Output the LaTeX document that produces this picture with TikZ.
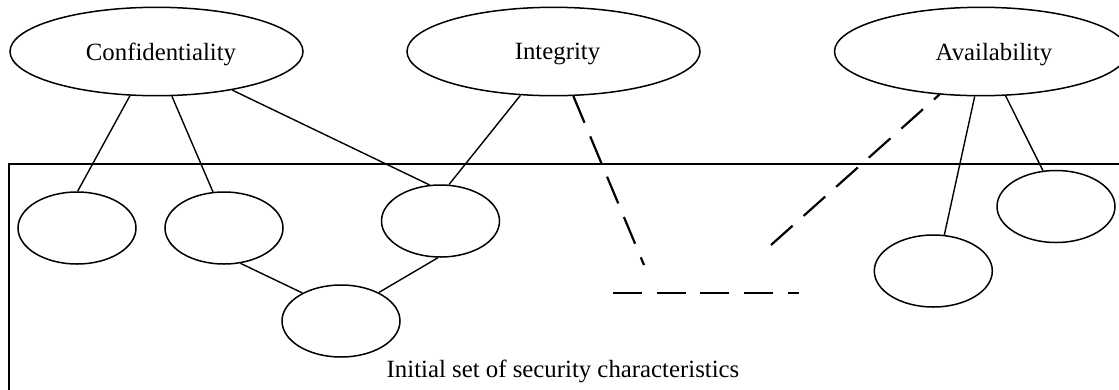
\documentclass[tikz,border=0pt]{standalone}
\usepackage{fontspec}
\setmainfont{Liberation Serif}
\usetikzlibrary{shapes.geometric}

\tikzset{
  goal/.style={ellipse, draw, line width=1.5pt, inner sep=0pt,
    minimum width=293pt, minimum height=88.4pt},
  attr/.style={ellipse, draw, line width=1.5pt, inner sep=0pt,
    minimum width=118pt, minimum height=72pt},
  caption/.style={anchor=base, inner sep=0pt,
    font=\fontsize{24.8}{30}\selectfont},
  link/.style={line width=1.4pt},
  weaklink/.style={line width=2.2pt, dash pattern=on 29pt off 14.7pt},
  frame/.style={line width=2pt}
}

\begin{document}
\begin{tikzpicture}[x=1pt, y=-1pt]
  \path[use as bounding box, clip] (0,0) rectangle (1119,389);

  % security characteristics region
  \draw[frame] (8.5,163.5) rectangle (1140,400);
  \node[caption] (setlabel) at (563,377) {Initial set of security characteristics};

  % top-level security goals
  \node[goal] (conf) at (156.5,51.5) {};
  \node[goal] (integ) at (553.5,51.5) {};
  \node[goal] (avail) at (981,51.5) {};
  \node[caption] (confl) at (161,60) {Confidentiality};
  \node[caption] (integl) at (557.5,59) {Integrity};
  \node[caption] (availl) at (994,60) {Availability};

  % characteristics
  \node[attr] (c1) at (77,228) {};
  \node[attr] (c2) at (224,228) {};
  \node[attr] (c3) at (440.5,221) {};
  \node[attr] (c4) at (341,321) {};
  \node[attr] (c5) at (933.3,271) {};
  \node[attr] (c6) at (1056,206.5) {};

  % free ends of the dashed links
  \coordinate (d1) at (644,265);
  \coordinate (d2) at (771,245);
  \coordinate (h1) at (613,292.7);
  \coordinate (h2) at (798.5,292.7);

  % solid links
  \draw[link] (conf.239) -- (c1.89);
  \draw[link] (conf.289) -- (c2.107.6);
  \draw[link] (conf.333) -- (c3.107.7);
  \draw[link] (integ.233) -- (c3.77.7);
  \draw[link] (c2.295.7) -- (c4.144.8);
  \draw[link] (c3.266.5) -- (c4.37.2);
  \draw[link] (avail.262) -- (c5.73.4);
  \draw[link] (avail.299) -- (c6.110.5);

  % dashed links
  \draw[weaklink] (integ.294) -- (d1);
  \draw[weaklink] (d2) -- (avail.226);
  \draw[weaklink] (h1) -- (h2);
\end{tikzpicture}
\end{document}
